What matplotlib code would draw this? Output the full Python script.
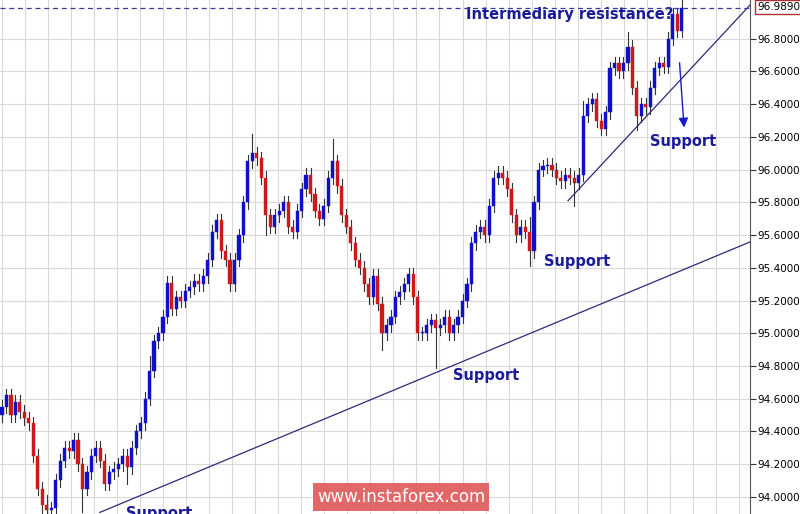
import matplotlib
matplotlib.use("Agg")
import matplotlib.pyplot as plt
from matplotlib.patches import Rectangle

closes = [94.55,94.62,94.50,94.58,94.52,94.48,94.45,94.25,94.05,93.95,93.92,93.93,94.10,94.22,94.30,94.28,94.35,94.20,94.05,94.15,
94.25,94.30,94.22,94.08,94.15,94.17,94.20,94.25,94.18,94.30,94.40,94.45,94.60,94.77,94.95,95.00,95.10,95.31,95.15,95.22,
95.20,95.26,95.28,95.32,95.30,95.35,95.45,95.62,95.69,95.50,95.45,95.30,95.45,95.60,95.80,96.05,96.10,96.07,95.95,95.72,
95.65,95.72,95.75,95.80,95.65,95.62,95.75,95.88,95.97,95.85,95.75,95.70,95.78,95.95,96.05,95.90,95.72,95.65,95.55,95.45,
95.40,95.30,95.22,95.35,95.18,95.00,95.05,95.10,95.22,95.25,95.30,95.36,95.22,95.00,95.00,95.05,95.08,95.03,95.05,95.10,
95.00,95.05,95.10,95.20,95.30,95.55,95.62,95.65,95.60,95.78,95.95,95.98,95.95,95.88,95.72,95.60,95.65,95.62,95.50,95.80,
96.00,96.02,96.03,96.00,95.95,95.93,95.97,95.95,95.92,95.97,96.33,96.40,96.43,96.30,96.25,96.35,96.62,96.65,96.60,96.65,
96.75,96.50,96.33,96.40,96.38,96.50,96.62,96.65,96.63,96.80,96.95,96.85,96.99]
first_open = 94.50
wick = 0.04
big_high = {10: 0.02, 33: 0.05, 56: 0.08, 74: 0.10, 118: 0.05, 130: 0.05, 140: 0.05, 152: 0.01}
big_low = {9: 0.06, 18: 0.10, 28: 0.06, 59: 0.08, 85: 0.06, 97: 0.20, 118: 0.05, 128: 0.10, 142: 0.05}

sup_line_x = [21.9, 167.3]
sup_line_y = [93.905, 95.558]
tri_line_x = [126.6, 167.3]
tri_line_y = [95.81, 97.006]
resistance = 96.989
yticks = [94.0, 94.2, 94.4, 94.6, 94.8, 95.0, 95.2, 95.4, 95.6, 95.8, 96.0, 96.2, 96.4, 96.6, 96.8]

fig = plt.figure(figsize=(8, 5.14), dpi=100)
ax = fig.add_axes([0, 0, 750/800, 1])
ax.set_xlim(-0.45, 167.3)
ax.set_ylim(93.895, 97.037)
ax.set_xticks([i*5.15 for i in range(33)])
ax.tick_params(axis='x', length=0, labelbottom=False)
ax.set_yticks(yticks)
ax.set_yticklabels([f"{v:.4f}" for v in yticks], fontsize=7.5)
ax.yaxis.tick_right()
ax.tick_params(axis='y', length=4, pad=1, color='#333333')
ax.grid(True, color='#d8d8d8', lw=0.8)
for s in ['top', 'left', 'bottom']:
    ax.spines[s].set_visible(False)
ax.spines['right'].set_color('#555555')

prev = first_open
for i, c in enumerate(closes):
    o = prev
    hi = max(o, c) + wick + big_high.get(i, 0)
    lo = min(o, c) - wick - big_low.get(i, 0)
    col = '#1010cc' if c >= o else '#cc1a1a'
    ax.plot([i, i], [lo, hi], color='#333333', lw=0.8, zorder=2)
    ax.add_patch(Rectangle((i-0.35, min(o, c)), 0.7, max(abs(c-o), 0.008), facecolor=col, edgecolor=col, lw=0.3, zorder=3))
    prev = c

ax.plot(sup_line_x, sup_line_y, color='#2a2a7a', lw=0.9, zorder=4)
ax.plot(tri_line_x, tri_line_y, color='#2a2a7a', lw=0.9, zorder=4)
ax.axhline(resistance, color='#3a3a9a', lw=0.9, ls=(0, (4, 3)), zorder=4)

tc = '#1a1a9a'
ax.text(127, 96.95, "Intermediary resistance?", color=tc, fontsize=10.5, fontweight='bold', ha='center', va='center')
ax.text(152.3, 96.17, "Support", color=tc, fontsize=10.5, fontweight='bold', ha='center', va='center')
ax.text(128.7, 95.44, "Support", color=tc, fontsize=10.5, fontweight='bold', ha='center', va='center')
ax.text(108.3, 94.74, "Support", color=tc, fontsize=10.5, fontweight='bold', ha='center', va='center')
ax.text(35.2, 93.90, "Support", color=tc, fontsize=10.5, fontweight='bold', ha='center', va='center')
ax.annotate("", xy=(152.6, 96.24), xytext=(151.5, 96.67),
            arrowprops=dict(arrowstyle='-|>', color='#1a1acc', lw=1.0, mutation_scale=14))

fig.text(757/800, 1-7/514, "96.9890", fontsize=7.5, va='center', ha='left',
         bbox=dict(boxstyle='square,pad=0.15', fc='white', ec='#b03030', lw=1))
fig.patches.append(Rectangle((313/800, 3/514), 176/800, 28/514, transform=fig.transFigure,
                             fc='#e06060', ec='none', alpha=0.95, zorder=10))
fig.text(401/800, 17/514, "www.instaforex.com", color='white', fontsize=12, ha='center', va='center', zorder=11)
fig.savefig("out.png", dpi=100)
